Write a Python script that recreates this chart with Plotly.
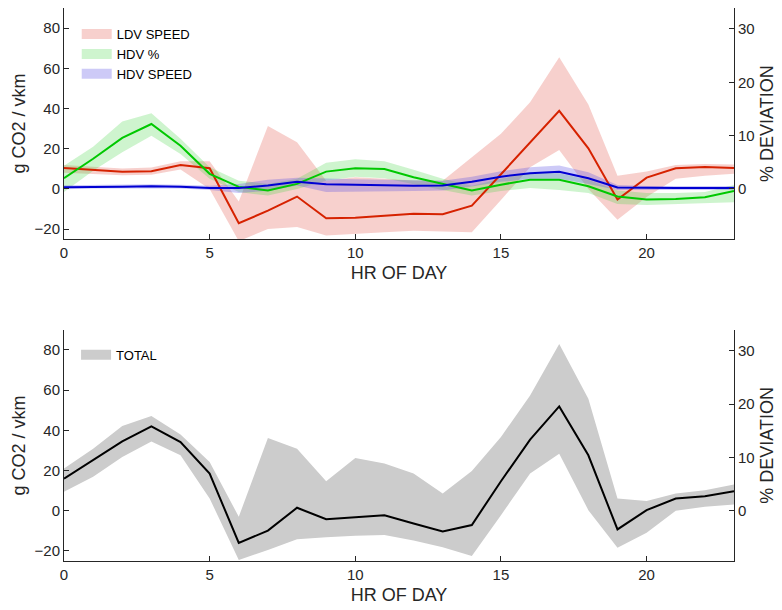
import plotly.graph_objects as go

hours = list(range(24))

ldv_mean = [10.4, 9.3, 8.5, 8.8, 11.9, 10.3, -17.1, -10.8, -3.8, -14.6, -14.3, -13.3,
            -12.4, -12.6, -8.3, 7.3, 23.0, 38.8, 20.2, -5.3, 5.6, 10.3, 10.9, 10.4]
ldv_upper = [11.9, 11.0, 10.2, 10.6, 13.8, 13.8, -6.3, 31.3, 23.2, 4.1, 5.8, 5.0,
             4.2, 4.1, 15.8, 27.4, 43.1, 65.5, 42.0, 6.6, 8.6, 11.9, 12.4, 12.1]
ldv_lower = [8.0, 7.5, 6.8, 7.0, 9.6, 0.0, -26.0, -19.9, -19.0, -23.2, -22.4, -21.6,
             -20.8, -21.2, -21.6, -5.5, 10.8, 19.4, 0.0, -15.3, -4.0, 5.0, 6.6, 7.5]

hdvp_mean = [5.3, 15.0, 25.4, 32.3, 21.5, 7.5, 1.0, -0.8, 2.5, 8.6, 10.3, 9.9,
             5.8, 2.5, -0.8, 2.1, 4.6, 4.5, 1.3, -3.8, -5.3, -5.0, -4.1, -1.0]
hdvp_upper = [11.5, 21.0, 33.5, 37.6, 25.0, 10.8, 4.1, 2.5, 5.0, 13.0, 14.8, 13.8,
              9.5, 5.0, 1.6, 5.0, 8.0, 7.8, 4.5, -0.8, -2.0, -2.0, -1.6, 2.0]
hdvp_lower = [-1.6, 9.0, 18.2, 26.5, 17.4, 5.0, -1.6, -3.3, 0.0, 4.1, 6.1, 5.3,
              2.5, -0.5, -3.3, -1.0, 0.5, -0.5, -2.0, -7.5, -8.0, -7.5, -7.0, -6.6]

hdvs_mean = [0.8, 1.1, 1.1, 1.3, 1.1, 0.5, 0.5, 1.7, 3.6, 2.3, 2.0, 1.8,
             1.6, 1.7, 3.6, 6.1, 7.8, 8.5, 5.3, 0.7, 0.5, 0.5, 0.5, 0.5]
hdvs_upper = [1.8, 2.0, 2.1, 2.3, 2.1, 1.6, 2.5, 4.5, 5.5, 5.0, 4.8, 4.6,
              4.3, 4.0, 6.0, 8.8, 10.8, 11.6, 8.3, 2.0, 1.5, 1.5, 1.5, 1.5]
hdvs_lower = [-0.2, 0.2, 0.2, 0.3, 0.2, -0.5, -2.0, -1.0, 1.7, -1.6, -1.4, -1.2,
              -1.0, -0.8, 1.2, 3.5, 5.0, 5.0, 2.5, -0.5, -0.5, -0.5, -0.5, -0.5]

total_mean = [16.0, 25.1, 34.5, 42.0, 34.2, 18.5, -16.0, -9.9, 1.5, -4.2, -3.3, -2.3,
              -6.3, -10.3, -7.1, 14.7, 35.4, 51.9, 27.6, -9.3, 0.3, 6.1, 7.2, 9.7]
total_upper = [21.0, 30.9, 42.2, 47.1, 37.9, 24.3, -3.0, 36.2, 30.9, 14.7, 26.3, 23.5,
               18.5, 8.6, 19.8, 36.7, 57.4, 83.0, 55.7, 6.1, 4.8, 8.6, 10.2, 13.0]
total_lower = [9.4, 16.9, 26.8, 34.5, 27.6, 6.1, -24.5, -19.5, -14.2, -13.2, -12.4, -12.1,
               -14.8, -18.2, -22.5, -2.2, 18.5, 28.4, 0.3, -18.4, -10.9, 0.0, 2.0, 3.1]

x_ticks = [0, 5, 10, 15, 20]
y_ticks = [-20, 0, 20, 40, 60, 80]
pct_ticks = [0, 10, 20, 30]
y_range = [-25, 90]
pct_per_g = 0.377
pct_range = [y_range[0] * pct_per_g, y_range[1] * pct_per_g]

series_top = [
    ("LDV SPEED", ldv_mean, ldv_upper, ldv_lower, "rgb(214,34,0)", "rgba(230,100,90,0.3)"),
    ("HDV %", hdvp_mean, hdvp_upper, hdvp_lower, "rgb(0,200,0)", "rgba(60,210,60,0.25)"),
    ("HDV SPEED", hdvs_mean, hdvs_upper, hdvs_lower, "rgb(0,0,210)", "rgba(90,80,230,0.3)"),
]

FONT = "Liberation Sans, Arial, sans-serif"
AX = "#262626"

fig = go.Figure()

band_x = hours + hours[::-1]
for name, m, u, l, lc, fc in series_top:
    fig.add_trace(go.Scatter(x=band_x, y=u + l[::-1], fill="toself", fillcolor=fc,
                             line=dict(width=0), mode="lines", hoverinfo="skip",
                             showlegend=False, xaxis="x", yaxis="y"))
for name, m, u, l, lc, fc in series_top:
    fig.add_trace(go.Scatter(x=hours, y=m, mode="lines", line=dict(color=lc, width=2),
                             showlegend=False, xaxis="x", yaxis="y"))
for name, m, u, l, lc, fc in series_top:
    fig.add_trace(go.Scatter(x=[None], y=[None], mode="lines", name=name,
                             line=dict(color=fc, width=14), xaxis="x", yaxis="y",
                             legend="legend"))

fig.add_trace(go.Scatter(x=band_x, y=total_upper + total_lower[::-1], fill="toself",
                         fillcolor="rgb(204,204,204)", line=dict(width=0), mode="lines",
                         hoverinfo="skip", showlegend=False, xaxis="x2", yaxis="y3"))
fig.add_trace(go.Scatter(x=hours, y=total_mean, mode="lines", line=dict(color="black", width=2),
                         showlegend=False, xaxis="x2", yaxis="y3"))
fig.add_trace(go.Scatter(x=[None], y=[None], mode="lines", name="TOTAL",
                         line=dict(color="rgb(204,204,204)", width=14), xaxis="x2", yaxis="y3",
                         legend="legend2"))

# invisible traces so the right-hand axes are drawn
fig.add_trace(go.Scatter(x=[0], y=[0], mode="markers", marker=dict(opacity=0),
                         showlegend=False, hoverinfo="skip", xaxis="x", yaxis="y2"))
fig.add_trace(go.Scatter(x=[0], y=[0], mode="markers", marker=dict(opacity=0),
                         showlegend=False, hoverinfo="skip", xaxis="x2", yaxis="y4"))

xcommon = dict(range=[0, 23], tickvals=x_ticks, ticks="inside", ticklen=5, tickcolor=AX,
               showline=True, linecolor=AX, linewidth=1, showgrid=False, zeroline=False,
               tickfont=dict(size=15, color=AX, family=FONT),
               title=dict(text="HR OF DAY", font=dict(size=18, color=AX, family=FONT), standoff=6))
ycommon = dict(range=y_range, tickvals=y_ticks, ticks="inside", ticklen=5, tickcolor=AX,
               showline=True, linecolor=AX, linewidth=1, showgrid=False, zeroline=False,
               tickfont=dict(size=15, color=AX, family=FONT),
               title=dict(text="g CO2 / vkm", font=dict(size=18, color=AX, family=FONT), standoff=4))
pcommon = dict(range=pct_range, tickvals=pct_ticks, ticks="inside", ticklen=5, tickcolor=AX,
               showline=True, linecolor=AX, linewidth=1, showgrid=False, zeroline=False,
               side="right", tickfont=dict(size=15, color=AX, family=FONT),
               title=dict(text="% DEVIATION", font=dict(size=18, color=AX, family=FONT), standoff=6))

fig.update_layout(
    width=782, height=610,
    margin=dict(l=64, r=48, t=8, b=47),
    paper_bgcolor="white", plot_bgcolor="white",
    font=dict(family=FONT, color=AX),
    xaxis=dict(domain=[0, 1], anchor="y", **xcommon),
    yaxis=dict(domain=[0.582, 1], anchor="x", **ycommon),
    yaxis2=dict(overlaying="y", anchor="x", **pcommon),
    xaxis2=dict(domain=[0, 1], anchor="y3", **xcommon),
    yaxis3=dict(domain=[0, 0.418], anchor="x2", **ycommon),
    yaxis4=dict(overlaying="y3", anchor="x2", **pcommon),
    legend=dict(x=0.019, y=0.98, xanchor="left", yanchor="top", bgcolor="rgba(0,0,0,0)",
                font=dict(size=13, color="black", family=FONT), tracegroupgap=0),
    legend2=dict(x=0.018, y=0.4, xanchor="left", yanchor="top", bgcolor="rgba(0,0,0,0)",
                 font=dict(size=13, color="black", family=FONT)),
    showlegend=True,
)

fig.write_html("out.html")
